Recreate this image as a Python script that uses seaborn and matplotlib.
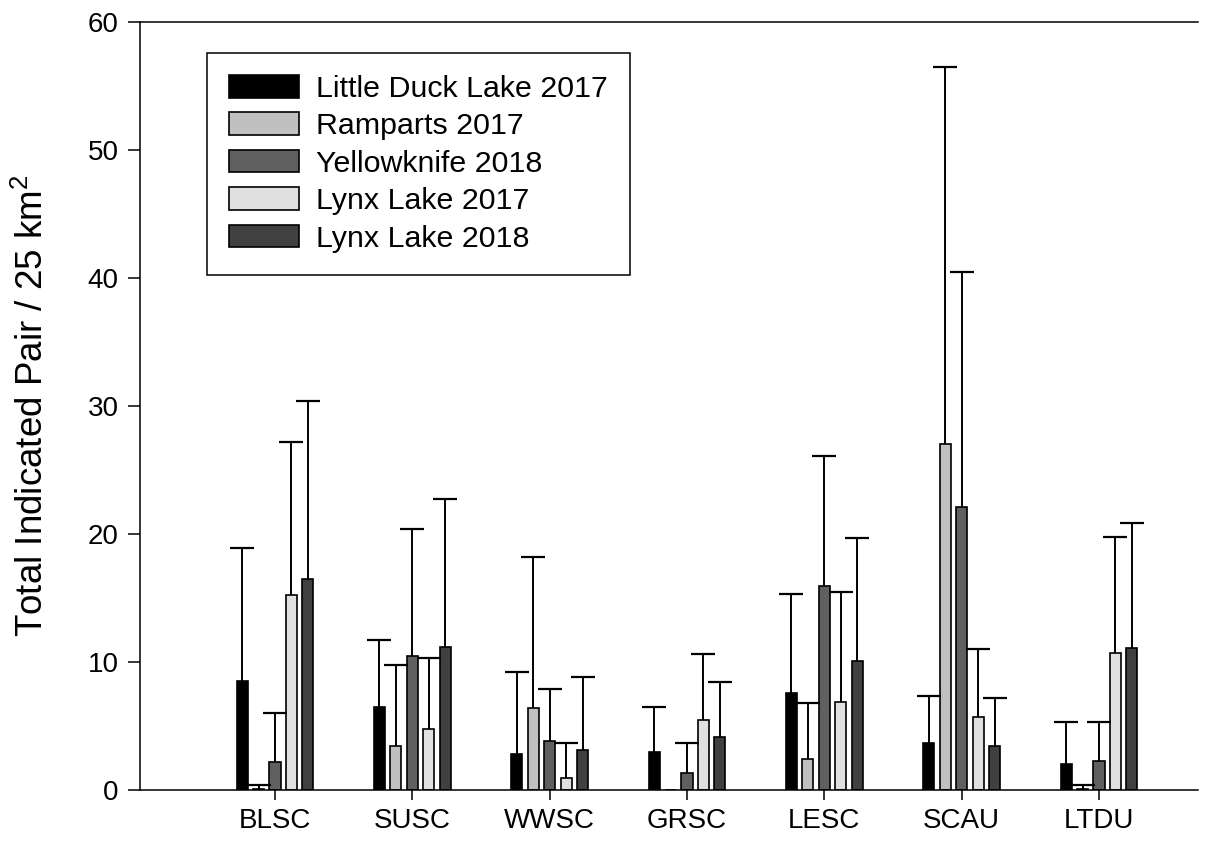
import matplotlib
matplotlib.use("Agg")
import matplotlib.pyplot as plt
import seaborn as sns
import numpy as np
import pandas as pd

# ---- data ----
species = ["BLSC", "SUSC", "WWSC", "GRSC", "LESC", "SCAU", "LTDU"]
sites = ["Little Duck Lake 2017", "Ramparts 2017", "Yellowknife 2018",
         "Lynx Lake 2017", "Lynx Lake 2018"]

little_duck_2017 = [8.5, 6.5, 2.85, 3.0, 7.6, 3.65, 2.05]
little_duck_2017_upper = [18.9, 11.7, 9.2, 6.45, 15.35, 7.35, 5.35]
ramparts_2017 = [0.1, 3.4, 6.4, 0.0, 2.45, 27.0, 0.1]
ramparts_2017_upper = [0.4, 9.8, 18.2, 0.0, 6.8, 56.45, 0.4]
yellowknife_2018 = [2.15, 10.5, 3.85, 1.3, 15.9, 22.1, 2.25]
yellowknife_2018_upper = [6.05, 20.4, 7.9, 3.7, 26.1, 40.45, 5.35]
lynx_lake_2017 = [15.2, 4.8, 0.95, 5.5, 6.9, 5.7, 10.7]
lynx_lake_2017_upper = [27.2, 10.3, 3.7, 10.65, 15.5, 11.05, 19.75]
lynx_lake_2018 = [16.5, 11.2, 3.1, 4.15, 10.1, 3.45, 11.1]
lynx_lake_2018_upper = [30.4, 22.75, 8.85, 8.4, 19.7, 7.15, 20.85]

values = [little_duck_2017, ramparts_2017, yellowknife_2018, lynx_lake_2017, lynx_lake_2018]
uppers = [little_duck_2017_upper, ramparts_2017_upper, yellowknife_2018_upper,
          lynx_lake_2017_upper, lynx_lake_2018_upper]
colors = ["#000000", "#c0c0c0", "#606060", "#e0e0e0", "#404040"]

rows = []
for s, vals in zip(sites, values):
    for sp, v in zip(species, vals):
        rows.append({"species": sp, "site": s, "value": v})
df = pd.DataFrame(rows)

# ---- style ----
sns.set_theme(style="ticks")
plt.rcParams["font.family"] = ["Liberation Sans", "DejaVu Sans"]
plt.rcParams["mathtext.fontset"] = "custom"
plt.rcParams["mathtext.rm"] = "Liberation Sans"
plt.rcParams["mathtext.it"] = "Liberation Sans:italic"
for k in ["text.color", "axes.labelcolor", "xtick.color", "ytick.color",
          "xtick.labelcolor", "ytick.labelcolor"]:
    plt.rcParams[k] = "black"

W, H = 1226, 848
fig = plt.figure(figsize=(W / 100, H / 100), dpi=100)
ax = fig.add_axes([140 / W, 1 - 790 / H, (1198 - 140) / W, (790 - 22) / H])

sns.barplot(data=df, x="species", y="value", hue="site", hue_order=sites,
            order=species, palette=colors, width=0.6, gap=0.33,
            edgecolor="black", linewidth=1.2, errorbar=None, legend=False,
            saturation=1, ax=ax)

# upper-only error bars with a cap at the top
for cont, up in zip(ax.containers, uppers):
    xs, ys, es = [], [], []
    for bar, u in zip(cont, up):
        h = bar.get_height()
        if u > h:
            xs.append(bar.get_x() + bar.get_width() / 2)
            ys.append(h)
            es.append(u - h)
    eb = ax.errorbar(xs, ys, yerr=[np.zeros(len(es)), es], fmt="none",
                     ecolor="black", elinewidth=1.4, capsize=8.6, capthick=1.6,
                     zorder=5)
    caplines = eb[1]
    if len(caplines) == 2:
        caplines[0].set_visible(False)  # lower cap

ax.set_xlim(-0.983, 6.721)
ax.set_ylim(0, 60)
ax.set_yticks([0, 10, 20, 30, 40, 50, 60])
ax.set_xlabel("")
ax.set_ylabel("Total Indicated Pair / 25 km$^2$", fontsize=26.5)
ax.yaxis.set_label_coords((51 - 140) / 1058, 0.5)
ax.tick_params(axis="both", labelsize=20, direction="out", width=1.1,
               color="black", labelcolor="black")
ax.tick_params(axis="y", length=8.5, pad=7)
ax.tick_params(axis="x", length=7, pad=6)
for side in ["left", "bottom", "top"]:
    ax.spines[side].set_visible(True)
    ax.spines[side].set_color("black")
    ax.spines[side].set_linewidth(1.1)
ax.spines["right"].set_visible(False)

leg = ax.legend(ax.containers, sites, loc="upper left",
                bbox_to_anchor=(207 / W, 1 - 53 / H),
                bbox_transform=fig.transFigure, borderaxespad=0,
                fontsize=21.9, frameon=True, fancybox=False, framealpha=1,
                edgecolor="black", handlelength=2.3, handleheight=0.76,
                handletextpad=0.56, labelspacing=0.31, borderpad=0.72)
leg.get_frame().set_linewidth(1.1)
for t in leg.get_texts():
    t.set_color("black")

fig.savefig("out.png", dpi=100)
